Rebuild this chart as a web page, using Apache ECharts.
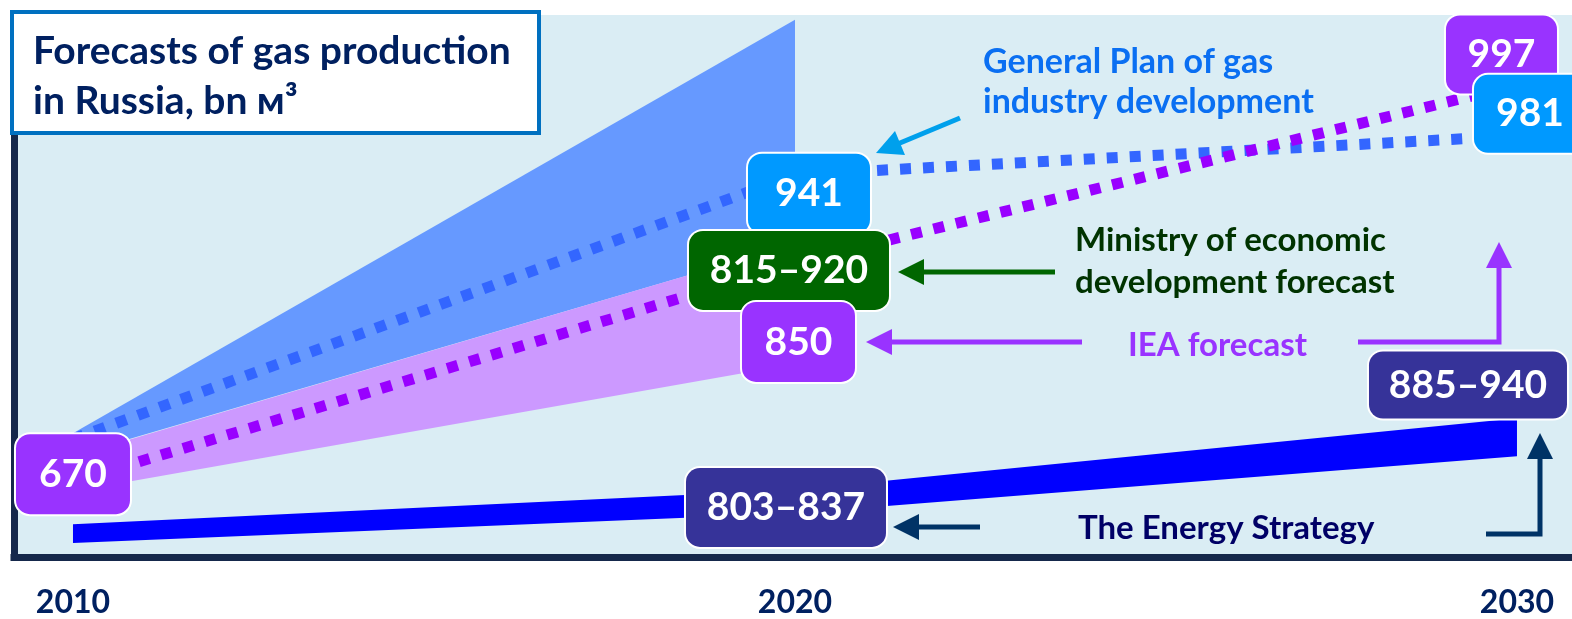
<!DOCTYPE html>
<html>
<head>
<meta charset="utf-8">
<title>Forecasts of gas production in Russia</title>
<script src="https://cdn.jsdelivr.net/npm/echarts@6/dist/echarts.min.js"></script>
<style>
  html, body { margin: 0; padding: 0; background: #ffffff; }
  #chart { width: 1572px; height: 619px; }
</style>
</head>
<body>
<div id="chart"></div>
<script>
// ---- data (bn m3) ----
const yearTicks = [2010, 2020, 2030];
const forecastYears = [2010, 2020, 2030];
const fanYears = [2010, 2020];

// General Plan of gas industry development
const generalPlan = [670, 941, 981];
const generalPlanFanLow = [653, 870];
const generalPlanFanHigh = [676, 1100];

// IEA forecast
const iea = [670, 850, 997];
const ieaFanLow = [662, 767];
const ieaFanHigh = [691, 866];

// The Energy Strategy corridor
const energyLow = [760, 803, 885];
const energyHigh = [787, 837, 940];

// Ministry of economic development forecast
const ministryYear = 2020;
const ministryRange = [815, 920];

// ---- styling ----
const FONT = 'Lato, "Open Sans", "Noto Sans", sans-serif';
const AXIS_COLOR = '#15284b';
const C = {
  bg: '#daedf4',
  gpFan: '#6699ff', gpLine: '#3366ff', gpBox: '#0099ff', gpText: '#0a6ff2', gpArrow: '#00a0ec',
  ieaFan: '#cc99ff', ieaLine: '#9900ff', ieaBox: '#9933ff',
  energy: '#0000ff', energyBox: '#363399', energyText: '#000066', energyArrow: '#003366',
  ministryBox: '#006600', ministryText: '#003300'
};

// y-axis indices: each forecast is drawn on its own (hidden) schematic scale
const AX = { frame: 0, gp: 1, iea: 2, energy: 3, ministry: 4 };

function hiddenY(min, max) {
  return { type: 'value', min, max, show: false, splitLine: { show: false } };
}

function band(name, axis, xs, lo, hi, color, z) {
  return {
    type: 'custom', name, yAxisIndex: axis, z, silent: true,
    data: xs.map((x, i) => [x, lo[i], hi[i]]),
    encode: { x: 0, y: [1, 2] },
    renderItem(params, api) {
      if (params.dataIndex !== 0) return null;
      const top = xs.map((x, i) => api.coord([x, hi[i]]));
      const bottom = xs.map((x, i) => api.coord([x, lo[i]])).reverse();
      return { type: 'polygon', shape: { points: top.concat(bottom) }, style: { fill: color } };
    }
  };
}

function dotted(name, axis, values, color, z) {
  return {
    type: 'line', name, yAxisIndex: axis, z, silent: true,
    showSymbol: false, symbol: 'none',
    data: forecastYears.map((x, i) => [x, values[i]]),
    lineStyle: { color, width: 11, type: [11, 12], cap: 'butt' }
  };
}

function valueBox(axis, x, y, text, color, w, h, offset, z) {
  return {
    type: 'scatter', yAxisIndex: axis, z, silent: true,
    symbolSize: 1, itemStyle: { color: 'rgba(0,0,0,0)', opacity: 1 },
    data: [[x, y]],
    label: {
      show: true, position: 'inside', offset, formatter: text, opacity: 1,
      color: '#ffffff', fontFamily: FONT, fontWeight: 'bold', fontSize: 39,
      backgroundColor: color, borderColor: '#ffffff', borderWidth: 2, borderRadius: 14,
      width: w, height: h, lineHeight: h, align: 'center', verticalAlign: 'middle', padding: 0
    }
  };
}

function rangeText(r) { return r[0] + '\u2013' + r[1]; }
function mid(a, b) { return (a + b) / 2; }

function arrow(points, color, width = 5, headLen = 26, headHalf = 13) {
  const tip = points[points.length - 1];
  const prev = points[points.length - 2];
  const dx = tip[0] - prev[0], dy = tip[1] - prev[1];
  const len = Math.hypot(dx, dy);
  const ux = dx / len, uy = dy / len;
  const bx = tip[0] - ux * headLen, by = tip[1] - uy * headLen;
  const shaft = points.slice(0, -1).concat([[bx + ux * 2, by + uy * 2]]);
  return [
    { type: 'polyline', z: 50, shape: { points: shaft },
      style: { stroke: color, lineWidth: width, fill: null, lineJoin: 'miter' } },
    { type: 'polygon', z: 51,
      shape: { points: [tip, [bx - uy * headHalf, by + ux * headHalf], [bx + uy * headHalf, by - ux * headHalf]] },
      style: { fill: color } }
  ];
}

function note(x, y, text, color, size) {
  return { type: 'text', x, y, z: 60,
    style: { text, fill: color, font: 'bold ' + size + 'px ' + FONT, textVerticalAlign: 'middle' } };
}

const chart = echarts.init(document.getElementById('chart'), null, { renderer: 'canvas' });

chart.setOption({
  animation: false,
  backgroundColor: '#ffffff',
  grid: { left: 14, right: 0, top: 15, bottom: 57.5, show: true, backgroundColor: C.bg, borderWidth: 0 },
  xAxis: {
    type: 'value', min: 2009.183, max: 2030.762,
    axisLine: { show: true, lineStyle: { color: AXIS_COLOR, width: 7, cap: 'square' } },
    axisTick: { show: false },
    splitLine: { show: false },
    axisLabel: {
      customValues: yearTicks, formatter: v => String(v), margin: 30,
      fontFamily: FONT, fontWeight: 'bold', fontSize: 32, color: '#002060'
    }
  },
  yAxis: [
    { type: 'value', min: 0, max: 1,
      axisLine: { show: true, lineStyle: { color: AXIS_COLOR, width: 7, cap: 'square' } },
      axisTick: { show: false }, axisLabel: { show: false }, splitLine: { show: false } },
    hiddenY(549, 1105),      // General Plan
    hiddenY(608, 1054.5),    // IEA
    hiddenY(740, 1520.7),    // Energy Strategy
    hiddenY(492.7, 1201.5)   // Ministry
  ],
  series: [
    band('General Plan range', AX.gp, fanYears, generalPlanFanLow, generalPlanFanHigh, C.gpFan, 1),
    band('IEA range', AX.iea, fanYears, ieaFanLow, ieaFanHigh, C.ieaFan, 2),
    band('The Energy Strategy', AX.energy, forecastYears, energyLow, energyHigh, C.energy, 3),
    dotted('General Plan', AX.gp, generalPlan, C.gpLine, 4),
    dotted('IEA', AX.iea, iea, C.ieaLine, 5),

    valueBox(AX.iea, forecastYears[0], iea[0], String(iea[0]), C.ieaBox, 114, 80, [0, -7.6], 10),
    valueBox(AX.gp, forecastYears[1], generalPlan[1], String(generalPlan[1]), C.gpBox, 122, 80, [14, 18.8], 11),
    valueBox(AX.ministry, ministryYear, mid(ministryRange[0], ministryRange[1]), rangeText(ministryRange), C.ministryBox, 200, 79, [-6, 0], 12),
    valueBox(AX.iea, forecastYears[1], iea[1], String(iea[1]), C.ieaBox, 113, 80, [3.5, 78.7], 13),
    valueBox(AX.energy, forecastYears[1], mid(energyLow[1], energyHigh[1]), rangeText([energyLow[1], energyHigh[1]]), C.energyBox, 200, 79, [-9, 6], 14),
    valueBox(AX.iea, forecastYears[2], iea[2], String(iea[2]), C.ieaBox, 111, 78, [-15.5, -30.4], 15),
    valueBox(AX.gp, forecastYears[2], generalPlan[2], String(generalPlan[2]), C.gpBox, 112, 78, [13, -22.1], 16),
    valueBox(AX.energy, forecastYears[2], mid(energyLow[2], energyHigh[2]), rangeText([energyLow[2], energyHigh[2]]), C.energyBox, 198, 67, [-49, -52.25], 17)
  ],
  graphic: [
    // title card
    { type: 'rect', z: 100, shape: { x: 12, y: 12, width: 527, height: 121 },
      style: { fill: '#ffffff', stroke: '#0070c0', lineWidth: 4 } },
    { type: 'text', x: 33, y: 51, z: 101,
      style: { text: 'Forecasts of gas production', fill: '#002060', font: 'bold 39px ' + FONT, textVerticalAlign: 'middle' } },
    { type: 'text', x: 33, y: 101, z: 101,
      style: { text: 'in Russia, bn \u043c\u00b3', fill: '#002060', font: 'bold 39px ' + FONT, textVerticalAlign: 'middle' } },

    // source annotations
    note(983, 62, 'General Plan of gas', C.gpText, 34),
    note(983, 102, 'industry development', C.gpText, 34),
    ...arrow([[960, 118], [876, 153]], C.gpArrow),

    note(1075, 240, 'Ministry of economic', C.ministryText, 33),
    note(1075, 282, 'development forecast', C.ministryText, 33),
    ...arrow([[1055, 272], [898, 272]], C.ministryBox),

    note(1128, 345, 'IEA forecast', C.ieaBox, 33),
    ...arrow([[1082, 342], [866, 342]], C.ieaBox),
    ...arrow([[1358, 342], [1499, 342], [1499, 242]], C.ieaBox),

    note(1078, 528, 'The Energy Strategy', C.energyText, 33),
    ...arrow([[980, 527], [893, 527]], C.energyArrow),
    ...arrow([[1486, 534], [1540, 534], [1540, 433]], C.energyArrow)
  ]
});
</script>
</body>
</html>
